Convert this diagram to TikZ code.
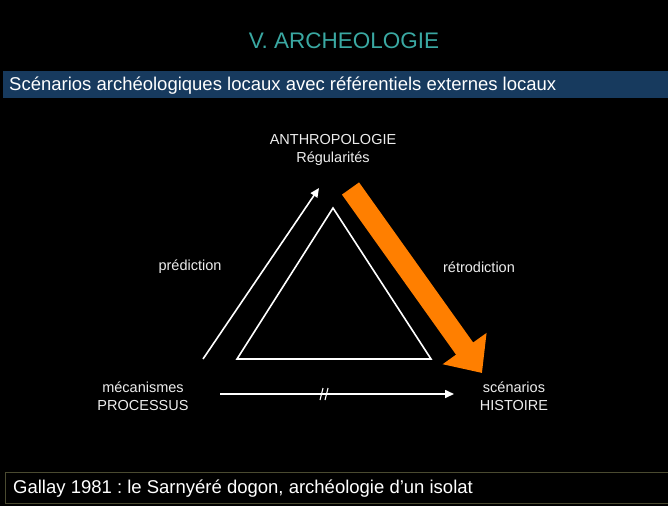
\documentclass[tikz,border=0pt]{standalone}
\usepackage{fontspec}
\setmainfont{Liberation Sans}
\usetikzlibrary{arrows.meta}
\frenchspacing
\definecolor{titleteal}{HTML}{3AA8A2}
\definecolor{bandblue}{HTML}{173A5E}
\definecolor{boxline}{HTML}{4A4A30}
\definecolor{arrorange}{HTML}{FF7F00}
\definecolor{lbl}{HTML}{EDEDED}
\tikzset{
  lab/.style={text=lbl, font=\fontsize{14.5}{17.5}\selectfont, align=center, inner sep=0pt},
  wline/.style={draw=white, line width=1.6pt},
}
\begin{document}
\begin{tikzpicture}[x=1pt,y=-1pt]
\fill[black] (0,0) rectangle (668,506);
\useasboundingbox (0,0) rectangle (668,506);
% title
\node[text=titleteal, font=\fontsize{22.5}{26}\selectfont, inner sep=0pt] (title) at (344,41) {V. ARCHEOLOGIE};
% band
\fill[bandblue] (3,71) rectangle (668,98);
\node[anchor=west, text=white, font=\fontsize{18.5}{22}\selectfont, inner sep=0pt] (sub) at (9,86) {Scénarios archéologiques locaux avec référentiels externes locaux};
% bottom box
\draw[boxline, line width=0.8pt] (5,472) rectangle (675,503);
\node[anchor=west, text=white, font=\fontsize{18.5}{22}\selectfont, inner sep=0pt] (ref) at (13,489) {Gallay 1981 : le Sarnyéré dogon, archéologie d’un isolat};
% triangle
\coordinate (A) at (333,208);
\coordinate (B) at (237,359);
\coordinate (C) at (431,359);
\draw[wline, line join=miter] (A) -- (B) -- (C) -- cycle;
% labels
\node[lab] (anth) at (333,150) {ANTHROPOLOGIE\\Régularités};
\node[lab] (pred) at (190,267) {prédiction};
\node[lab] (retro) at (479,267) {rétrodiction};
\node[lab] (meca) at (143,396) {mécanismes\\PROCESSUS};
\node[lab] (scen) at (514,396) {scénarios\\HISTOIRE};
% prediction arrow
\coordinate (p1) at (203,359);
\coordinate (p2) at (319,188);
\draw[wline, -{Triangle[length=9pt,width=8pt]}] (p1) -- (p2);
% bottom arrow
\coordinate (h1) at (220,394);
\coordinate (h2) at (454,394);
\draw[wline, -{Triangle[length=9pt,width=8pt]}] (h1) -- (h2);
\draw[white, line width=1.1pt] (320,400) -- (323,388) (325,400) -- (328,388);
% orange arrow
\coordinate (o1) at (350.5,188.5);
\coordinate (o2) at (482,373);
\draw[arrorange, line width=21pt, -{Triangle[length=30pt,width=52pt]}] (o1) -- (o2);
\end{tikzpicture}
\end{document}
